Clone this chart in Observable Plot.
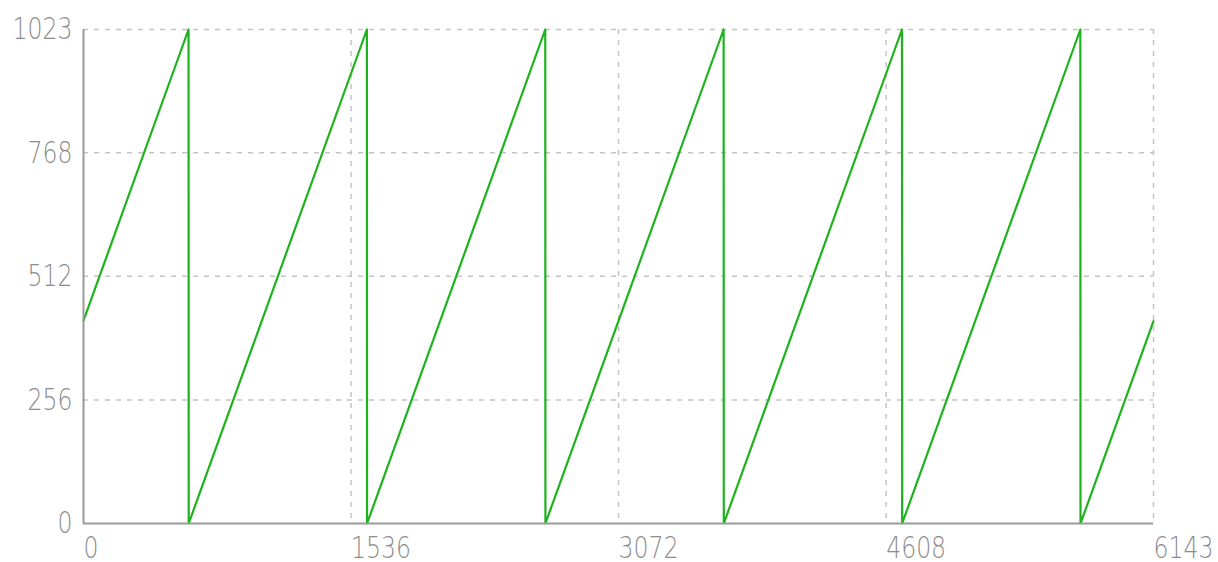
<!DOCTYPE html>
<html>
<head>
<meta charset="utf-8">
<script src="https://cdn.jsdelivr.net/npm/d3@7"></script>
<script src="https://cdn.jsdelivr.net/npm/@observablehq/plot@0.6"></script>
<style>
  html, body { margin: 0; padding: 0; background: #fff; }
  #chart { width: 1218px; height: 562px; }
</style>
</head>
<body>
<div id="chart"></div>
<script>
const xTicks = [0, 1536, 3072, 4608, 6143];
const yTicks = [0, 256, 512, 768, 1023];
const sawX = [0, 603, 604, 1627, 1628, 2651, 2652, 3675, 3676, 4699, 4700, 5723, 5724, 6143];
const sawY = [420, 1023, 0, 1023, 0, 1023, 0, 1023, 0, 1023, 0, 1023, 0, 419];

const saw = sawX.map((x, i) => ({x, y: sawY[i]}));
const gridX = xTicks.slice(1);
const gridY = yTicks.slice(1);

const chart = Plot.plot({
  width: 1218,
  height: 562,
  marginTop: 29,
  marginBottom: 39,
  marginLeft: 83,
  marginRight: 65,
  x: {domain: [0, 6143], label: null},
  y: {domain: [0, 1023], label: null},
  style: {fontFamily: "'DejaVu Sans', sans-serif", fontSize: "31px", color: "#8c8c8c", background: "#fff"},
  marks: [
    Plot.ruleX(gridX, {stroke: "#c4c4c4", strokeWidth: 1.5, strokeDasharray: "5,6"}),
    Plot.ruleY(gridY, {stroke: "#c4c4c4", strokeWidth: 1.5, strokeDasharray: "5,6"}),
    Plot.line(saw, {x: "x", y: "y", stroke: "#1db31d", strokeWidth: 2.2}),
    Plot.ruleX([0], {stroke: "#9a9a9a", strokeWidth: 2}),
    Plot.ruleY([0], {stroke: "#9a9a9a", strokeWidth: 2}),
    Plot.axisX({ticks: xTicks, tickSize: 0, tickPadding: 12, textAnchor: "start", tickFormat: d => String(d), fill: "#8c8c8c", fontSize: 31, fontWeight: 300, label: null}),
    Plot.axisY({ticks: yTicks, tickSize: 0, tickPadding: 11, tickFormat: d => String(d), fill: "#8c8c8c", fontSize: 31, fontWeight: 300, label: null})
  ]
});
// squeeze tick labels to the reference's narrow glyph width
chart.querySelectorAll("g[aria-label$='tick label'] text").forEach(t => {
  const n = t.textContent.length;
  t.setAttribute("textLength", n * 15);
  t.setAttribute("lengthAdjust", "spacingAndGlyphs");
});
document.getElementById("chart").appendChild(chart);
</script>
</body>
</html>
